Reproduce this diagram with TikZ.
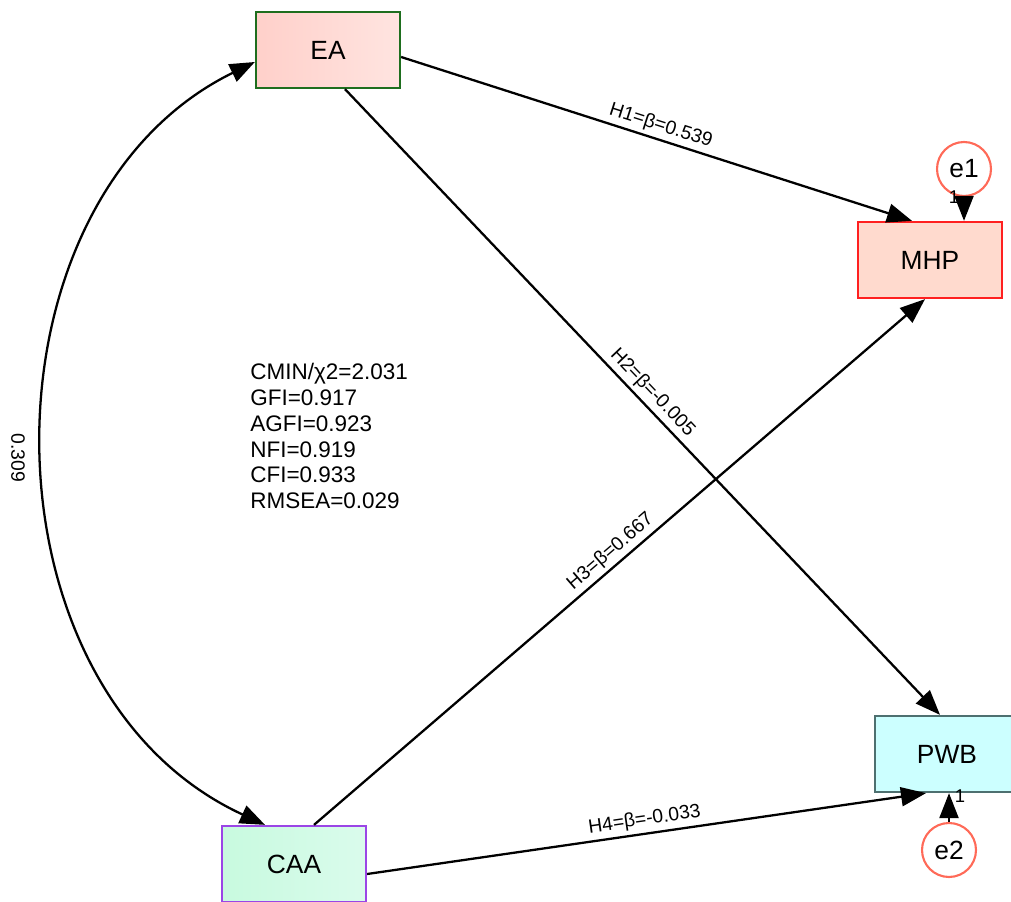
\documentclass[tikz,border=0pt]{standalone}
\usepackage{fontspec}
\setmainfont{Liberation Sans}
\usetikzlibrary{arrows.meta}

\definecolor{eaLeft}{HTML}{FFD0CA}
\definecolor{eaRight}{HTML}{FFE4E0}
\definecolor{eaLine}{HTML}{1E6E1E}
\definecolor{mhpFill}{HTML}{FFDACE}
\definecolor{mhpLine}{HTML}{FF2020}
\definecolor{pwbFill}{HTML}{CCFFFF}
\definecolor{pwbLine}{HTML}{4E7070}
\definecolor{caaLeft}{HTML}{C8FADF}
\definecolor{caaRight}{HTML}{DAFBEC}
\definecolor{caaLine}{HTML}{9B45E6}
\definecolor{errLine}{HTML}{FF6A58}

\begin{document}
\begin{tikzpicture}[
  x=0.02cm, y=-0.02cm,
  font=\fontsize{15}{17}\selectfont,
  var/.style={draw, line width=1.3pt, minimum width=2.88cm, minimum height=1.52cm, inner sep=0pt},
  err/.style={circle, draw=errLine, fill=white, line width=1.2pt, minimum size=1.08cm, inner sep=0pt},
  arr/.style={-{Triangle[length=0.5cm, width=0.38cm]}, line width=1.3pt},
  cov/.style={{Triangle[length=0.5cm, width=0.38cm]}-{Triangle[length=0.5cm, width=0.38cm]}, line width=1.3pt},
  lab/.style={font=\fontsize{11}{12}\selectfont, sloped, above, inner sep=2pt, pos=0.5},
  one/.style={font=\fontsize{10.5}{12}\selectfont, inner sep=0pt}
]
\useasboundingbox (0,0) rectangle (1011,902);

\node[var, draw=eaLine, left color=eaLeft, right color=eaRight] (EA) at (328,50) {EA};
\node[var, draw=mhpLine, fill=mhpFill] (MHP) at (930,260) {MHP};
\node[var, draw=pwbLine, fill=pwbFill] (PWB) at (947,754) {PWB};
\node[var, draw=caaLine, left color=caaLeft, right color=caaRight] (CAA) at (294,864) {CAA};
\node[err] (e1) at (964,169) {e1};
\node[err] (e2) at (949,850) {e2};

\node[one] (one1) at (954,197) {1};
\node[one] (one2) at (960,796) {1};
\node[align=left, anchor=north west, inner sep=0pt, font=\fontsize{12.8}{14.7}\selectfont] (fit) at (250,363)
  {CMIN/χ2=2.031\\GFI=0.917\\AGFI=0.923\\NFI=0.919\\CFI=0.933\\RMSEA=0.029};
\node[font=\fontsize{11}{12}\selectfont, rotate=-90] (r) at (18,458) {0.309};

\draw[arr] ([yshift=-0.14cm]EA.east) -- ([xshift=-0.36cm]MHP.north) node[lab] {H1=β=0.539};
\draw[arr] ([xshift=0.34cm]EA.south) -- ([xshift=-0.14cm]PWB.north) node[lab] {H2=β=-0.005};
\draw[arr] ([xshift=0.4cm]CAA.north) -- ([xshift=-0.1cm]MHP.south) node[lab] {H3=β=0.667};
\draw[arr] ([yshift=-0.2cm]CAA.east) -- ([xshift=-0.42cm]PWB.south) node[lab] {H4=β=-0.033};
\draw[cov] ([yshift=-0.24cm]EA.west) .. controls (-27,200) and (-27,690) .. ([xshift=-0.58cm]CAA.north);
\draw[arr] (e1) -- (e1 |- MHP.north);
\draw[arr] (e2) -- (e2 |- PWB.south);
\end{tikzpicture}
\end{document}
